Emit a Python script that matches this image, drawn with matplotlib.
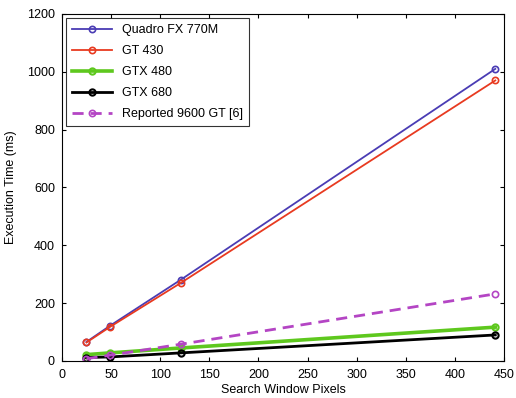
import matplotlib.pyplot as plt
import numpy as np

plt.rcParams['font.family'] = ['Liberation Sans', 'DejaVu Sans']

pixels = [25, 49, 121, 441]
quadro = [66, 122, 281, 1010]
gt430 = [64, 118, 270, 970]
gtx480 = [22, 28, 45, 117]
gtx680 = [12, 14, 28, 90]
gt9600 = [8, 20, 58, 232]

fig = plt.figure(figsize=(5.16, 3.98), dpi=100)
ax = fig.add_axes([0.120, 0.093, 0.857, 0.872])

ax.plot(pixels, quadro, color='#4a3cb4', lw=1.3, marker='o', ms=4.5, mfc='none', mew=1.2, label='Quadro FX 770M')
ax.plot(pixels, gt430, color='#e83a20', lw=1.3, marker='o', ms=4.5, mfc='none', mew=1.2, label='GT 430')
ax.plot(pixels, gtx480, color='#5ec81e', lw=2.6, marker='o', ms=4.5, mfc='none', mew=1.5, label='GTX 480')
ax.plot(pixels, gtx680, color='black', lw=2.0, marker='o', ms=4.5, mfc='none', mew=1.5, label='GTX 680')
ax.plot(pixels, gt9600, color='#b445c4', lw=2.0, ls='--', dashes=(4, 2.5), marker='o', ms=4.5, mfc='none', mew=1.2, label='Reported 9600 GT [6]')

ax.set_xlim(0, 450)
ax.set_ylim(0, 1200)
ax.set_xticks(np.arange(0, 451, 50))
ax.set_yticks(np.arange(0, 1201, 200))
ax.tick_params(labelsize=9, direction='in', length=3, top=True, right=True)
ax.tick_params(axis='x', pad=6)
ax.tick_params(axis='y', pad=5)
ax.set_xlabel('Search Window Pixels', fontsize=9, labelpad=2)
ax.set_ylabel('Execution Time (ms)', fontsize=9, labelpad=7)

leg = ax.legend(loc='upper left', fontsize=9, frameon=True, fancybox=False, edgecolor='black',
                borderaxespad=0.3, handlelength=3.2, labelspacing=0.72, borderpad=0.5)
leg.get_frame().set_linewidth(0.8)

fig.savefig('out.png', dpi=100)
